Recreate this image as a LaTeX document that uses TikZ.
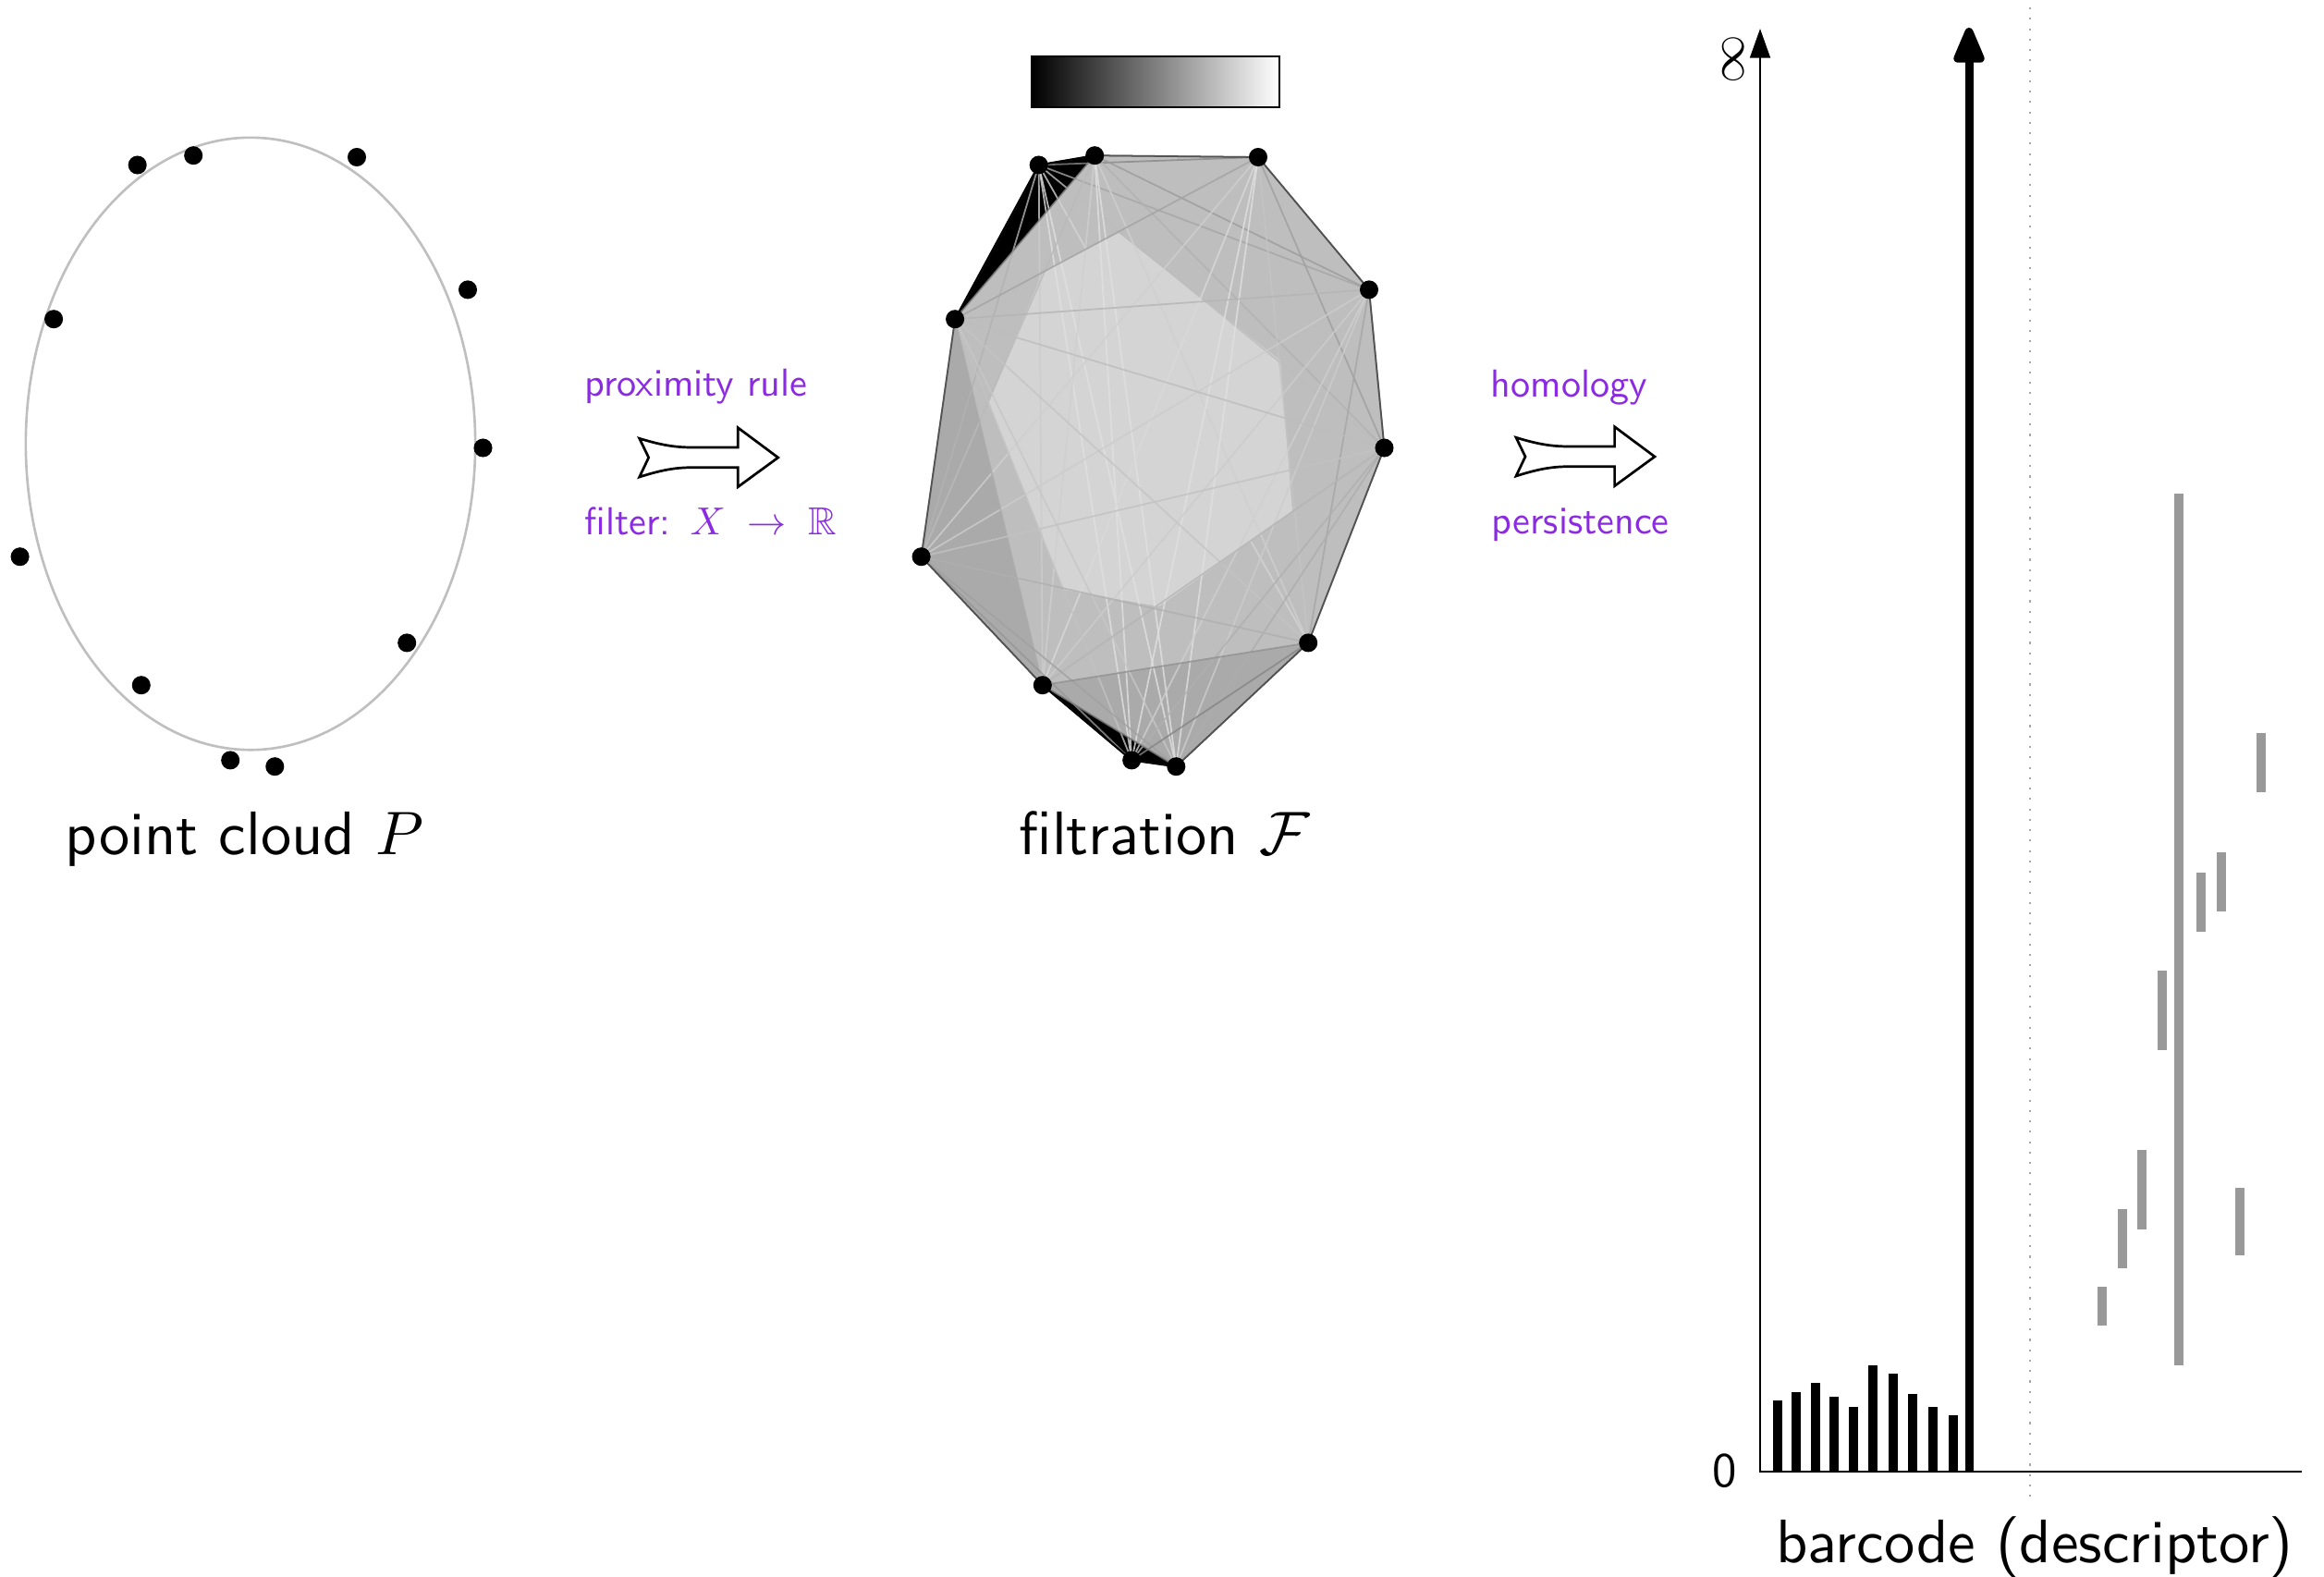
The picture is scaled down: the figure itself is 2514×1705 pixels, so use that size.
\RequirePackage{fix-cm}
\documentclass[tikz,border=0pt]{standalone}
\usepackage{amssymb}
\usepackage{graphicx}
\usetikzlibrary{arrows.meta}
\definecolor{labelpurple}{RGB}{138,43,226}
\definecolor{hullfill}{gray}{0.745}
\definecolor{darkfill}{gray}{0.665}
\definecolor{lightfill}{gray}{0.83}
\definecolor{hbargray}{gray}{0.6}
\newcommand{\bigtext}[1]{\scalebox{1.89}{#1}}
\newcommand{\midtext}[1]{\scalebox{1.2}{#1}}
\begin{document}
\begin{tikzpicture}[x=0.01cm,y=-0.01cm,
  dot/.style={circle, fill=black, inner sep=0pt, minimum size=5.7pt},
  mainlabel/.style={font=\fontsize{10}{12}\selectfont\sffamily, inner sep=0pt, anchor=base},
  purplelabel/.style={font=\fontsize{10}{12}\selectfont\sffamily, text=labelpurple, inner sep=0pt, anchor=base west},
  ticklabel/.style={font=\fontsize{10}{12}\selectfont, inner sep=0pt},
  axisline/.style={line width=0.7pt, line join=miter},
  hzbar/.style={line width=2.85pt, black},
  hobar/.style={line width=2.85pt, hbargray},
  cedge/.style={line width=0.5pt},
  hulledge/.style={line width=0.5pt, black!68},
  cloudcurve/.style={draw=black!25, line width=0.75pt},
  dotline/.style={draw=black!35, line width=0.6pt, dash pattern=on 0.6pt off 2.6pt},
  hollowarrow/.pic={\draw[line width=0.77pt, fill=white]
     (0,-20.7) .. controls (25,-13) and (40,-11) .. (58,-11) -- (106.6,-11)
     -- (106.6,-32.3) -- (150,0) -- (106.6,31.7) -- (106.6,10.7) -- (58,10.7)
     .. controls (40,10.7) and (25,13) .. (0,21) -- (10,0) -- cycle;}
]
\useasboundingbox (0,0) rectangle (2514,1705);

\def\PX{{148.7,209.2,386,506,58.1,522.5,21.6,440.2,152.8,249.2,297.3}}
\def\PY{{178.5,168.2,170,313.4,345.2,484.5,602.2,695.4,741.2,822.4,829.2}}
\foreach \i in {1,...,11}{
  \coordinate (p\i) at ({\PX[\i-1]},{\PY[\i-1]});
  \coordinate (f\i) at ({\PX[\i-1]+975},{\PY[\i-1]});
}

% ---------- point cloud ----------
\draw[cloudcurve] (271,480) ellipse [x radius=2.43cm, y radius=3.31cm];
\foreach \i in {1,...,11}{ \node[dot] (dp\i) at (p\i) {}; }
\node[mainlabel] (pclabel) at (264.5,924) {\bigtext{point cloud $P$}};

% ---------- first transition ----------
\node[purplelabel] (prox) at (632,428) {\midtext{proximity rule}};
\node[purplelabel] (filt) at (632,578) {\midtext{filter:\hspace{5pt}$X\;\rightarrow\;\mathbb{R}$}};
\pic at (691.7,495) {hollowarrow};

% ---------- filtration ----------
\node[draw=black, line width=0.7pt, left color=black, right color=white,
      minimum width=2.68cm, minimum height=0.55cm, inner sep=0pt] (cbar) at (1250,88.5) {};
\fill[hullfill] (f1)--(f2)--(f3)--(f4)--(f6)--(f8)--(f11)--(f10)--(f9)--(f7)--(f5)--cycle;
\fill[darkfill] (f5)--(f7)--(f9)--cycle;
\fill[darkfill] (f9)--(f8)--(f11)--(f10)--cycle;
\begin{scope}[shift={(975,0)}]
  \fill[lightfill] (235,252)--(410,390)--(423,553)--(279,656)--(175,638)--(94,436)--(153,294)--cycle;
\end{scope}
\fill[black] (f1)--(f2)--(f5)--cycle;
\fill[black] (f9)--(f10)--(f11)--cycle;
\foreach \i in {1,...,10}{
  \pgfmathtruncatemacro\inext{\i+1}
  \foreach \j in {\inext,...,11}{
    \pgfmathsetmacro\len{100*veclen((\PX[\i-1]-\PX[\j-1])/100,(\PY[\i-1]-\PY[\j-1])/100)}
    \pgfmathtruncatemacro\blk{max(12,68-0.085*\len)}
    \draw[cedge, draw=black!\blk, draw opacity=0.8] (f\i) -- (f\j);
  }
}
\draw[hulledge] (f2)--(f3)--(f4)--(f6)--(f8)--(f11);
\draw[hulledge] (f9)--(f7)--(f5);
\draw[black, line width=0.6pt] (f5)--(f1)--(f2);
\draw[black, line width=0.6pt] (f9)--(f10)--(f11);
\foreach \i in {1,...,11}{ \node[dot] (df\i) at (f\i) {}; }
\node[mainlabel] (flabel) at (1259.5,924) {\bigtext{filtration $\mathcal{F}$}};

% ---------- second transition ----------
\node[purplelabel] (homol) at (1612,429) {\midtext{homology}};
\node[purplelabel] (pers) at (1613,577) {\midtext{persistence}};
\pic at (1640,494) {hollowarrow};

% ---------- barcode ----------
\coordinate (origin) at (1904,1592);
\coordinate (ytop) at (1904,31);
\coordinate (xend) at (2490,1592);
\coordinate (dtop) at (2196,8);
\coordinate (dbot) at (2196,1625);
\draw[dotline] (dtop) -- (dbot);
\draw[axisline, {Triangle[length=9pt,width=6.2pt]}-] (ytop) -- (origin) -- (xend);
\node[ticklabel, font=\fontsize{10}{12}\selectfont\sffamily] (zero) at (1866,1591) {\scalebox{1.5}{0}};
\node[ticklabel, rotate=90] (inf) at (1875,64) {\scalebox{1.5}{$\infty$}};
\foreach \x/\t in {1923/1515, 1943/1506, 1963.5/1496, 1984/1511, 2004.5/1522,
                   2025.5/1477, 2048/1486, 2069/1508, 2091/1522, 2112.5/1531}{
  \draw[hzbar] (\x,1592) -- (\x,\t);
}
\draw[line width=2.56pt, -{Triangle[round,length=13pt,width=10pt]}] (2130,1592) -- (2130,30);
\foreach \x/\a/\b in {2357/534/1477, 2445.5/793/857, 2381/944/1008, 2402.5/922/986,
                      2338.5/1050/1136, 2317/1244/1330, 2296/1308/1372, 2274/1392/1434,
                      2423/1285/1358}{
  \draw[hobar] (\x,\a) -- (\x,\b);
}
\node[mainlabel] (blabel) at (2201,1690) {\bigtext{barcode (descriptor)}};
\end{tikzpicture}
\end{document}
